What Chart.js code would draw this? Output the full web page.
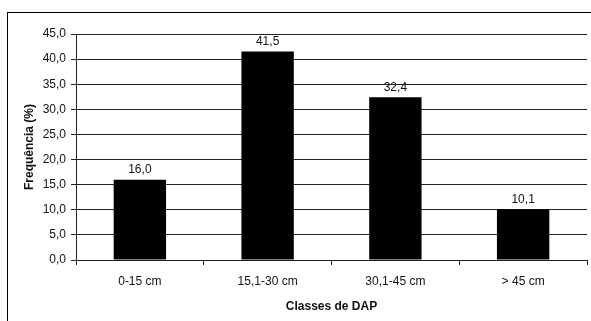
<!DOCTYPE html>
<html>
<head>
<meta charset="utf-8">
<script src="https://cdn.jsdelivr.net/npm/chart.js@4.4.1/dist/chart.umd.min.js"></script>
<style>
  html, body { margin: 0; padding: 0; background: #fff; }
  #wrap { width: 591px; height: 321px; }
</style>
</head>
<body>
<div id="wrap"><canvas id="grafico" width="591" height="321"></canvas></div>
<script>
const classes = ['0-15 cm', '15,1-30 cm', '30,1-45 cm', '> 45 cm'];
const frequencia = [16.0, 41.5, 32.4, 10.1];
const yTicks = [0, 5, 10, 15, 20, 25, 30, 35, 40, 45];

const fmt = v => v.toFixed(1).replace('.', ',');
const fonte = 'Liberation Sans, Arial, sans-serif';

// moldura externa + fundo branco
const moldura = {
  id: 'moldura',
  beforeDraw(chart) {
    const ctx = chart.ctx;
    ctx.save();
    ctx.fillStyle = '#fff';
    ctx.fillRect(0, 0, chart.width, chart.height);
    ctx.strokeStyle = '#000';
    ctx.lineWidth = 1;
    ctx.strokeRect(7.5, 12.5, 700, 400);
    ctx.restore();
  }
};

// valores acima das barras
const rotulos = {
  id: 'rotulos',
  afterDatasetsDraw(chart) {
    const ctx = chart.ctx;
    const meta = chart.getDatasetMeta(0);
    ctx.save();
    ctx.font = '12px ' + fonte;
    ctx.fillStyle = '#111';
    ctx.textAlign = 'center';
    ctx.textBaseline = 'middle';
    meta.data.forEach((bar, i) => {
      ctx.fillText(fmt(frequencia[i]), bar.x, bar.y - 10);
    });
    ctx.restore();
  }
};

new Chart(document.getElementById('grafico'), {
  type: 'bar',
  data: {
    labels: classes,
    datasets: [{
      data: frequencia,
      backgroundColor: '#000',
      borderWidth: 0,
      barPercentage: 0.41,
      categoryPercentage: 1
    }]
  },
  options: {
    responsive: false,
    animation: false,
    layout: { padding: { top: 34, right: 4, left: 0, bottom: 0 } },
    plugins: {
      legend: { display: false },
      tooltip: { enabled: false }
    },
    scales: {
      x: {
        afterFit: s => { s.height = 61; },
        grid: { drawOnChartArea: false, drawTicks: true, tickLength: 5, color: '#222', offset: true },
        border: { display: true, color: '#222', width: 1 },
        ticks: { color: '#111', font: { family: fonte, size: 12 }, padding: 9 },
        title: {
          display: true,
          text: 'Classes de DAP',
          color: '#111',
          font: { family: fonte, size: 12, weight: 'bold' },
          padding: 7
        }
      },
      y: {
        min: 0,
        max: 45,
        afterFit: s => { s.width = 76; },
        afterBuildTicks: s => { s.ticks = yTicks.map(v => ({ value: v })); },
        grid: { color: '#222', lineWidth: 1, drawTicks: true, tickLength: 5 },
        border: { display: true, color: '#222', width: 1 },
        ticks: {
          color: '#111',
          font: { family: fonte, size: 12 },
          padding: 5,
          callback: v => fmt(v)
        },
        title: {
          display: true,
          text: 'Frequência (%)',
          color: '#111',
          font: { family: fonte, size: 12, weight: 'bold' },
          padding: 22
        }
      }
    }
  },
  plugins: [moldura, rotulos]
});
</script>
</body>
</html>
